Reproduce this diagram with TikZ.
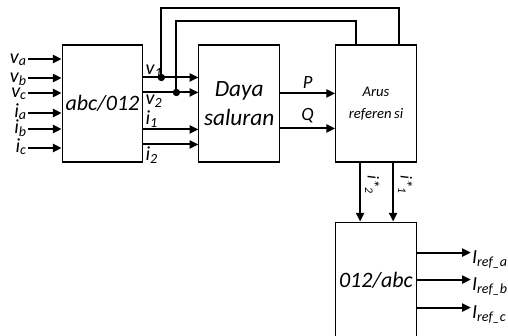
\documentclass[tikz,border=0pt]{standalone}
\usepackage{fontspec}
\setmainfont{Carlito}
\usetikzlibrary{arrows.meta, positioning, calc}

\begin{document}
\begin{tikzpicture}[
    x=0.75pt, y=0.75pt,               % <── 1 unit = 1 pixel of the sketch
    node distance=41.25pt,
    block/.style={rectangle, draw, line width=0.8pt, minimum width=60.5pt, minimum height=87.75pt,
                  inner sep=0pt, align=center, font=\itshape\fontsize{16.5}{19}\selectfont},
    sig/.style={-{Triangle[length=6.5pt, width=6pt]}, line width=1.5pt},
    wire/.style={line width=1.5pt},
    lbl/.style={inner sep=0pt, font=\itshape\fontsize{15}{15}\selectfont},
    dot/.style={circle, fill, inner sep=0pt, minimum size=5.5pt}
    ]
    \useasboundingbox (0,0) rectangle (508,-336);

    % Blocks
    \node[block] (abc) at (102.5,-103.5) {abc/012};
    \node[block, font=\itshape\fontsize{17.5}{22}\selectfont] (daya) [right=of abc] {Daya\\saluran};
    \node[block, font=\itshape\fontsize{11}{16}\selectfont] (arus) [right=of daya] {Arus\\referen\,si};
    \node[block] (inv) [below=44.25pt of arus] {012/abc};

    % Inputs
    \foreach \n/\txt/\y in {va/v\textsubscript{a}/59, vb/v\textsubscript{b}/78, vc/v\textsubscript{c}/93,
                            ia/i\textsubscript{a}/113, ib/i\textsubscript{b}/129, ic/i\textsubscript{c}/148}{
        \coordinate (\n) at (28,-\y);
        \node[lbl, anchor=base east] (l\n) at ($(\n)+(-1,-4)$) {\txt};
        \draw[sig] (\n) -- (\n -| abc.west);
    }

    % abc/012 -> Daya saluran
    \foreach \n/\dy in {v1/33, v2/48, i1/85, i2/100}{
        \coordinate (\n) at ($(abc.north east)+(0,-\dy)$);
        \draw[sig] (\n) -- (\n -| daya.west);
    }
    \node[lbl, anchor=base west] (lv1) at ($(v1)+(2,3)$) {v\textsubscript{1}};
    \node[lbl, anchor=base west] (lv2) at ($(v2)+(2,-12)$) {v\textsubscript{2}};
    \node[lbl, anchor=base west] (li1) at ($(i1)+(2,5)$) {i\textsubscript{1}};
    \node[lbl, anchor=base west] (li2) at ($(i2)+(2,-16)$) {i\textsubscript{2}};

    % Feedback to Arus referensi
    \node[dot] (d1) at ($(v1)+(18,0)$) {};
    \node[dot] (d2) at ($(v2)+(33,0)$) {};
    \draw[wire] (d1.center) -- ++(0,69) -| ($(arus.north east)+(-18,0)$);
    \draw[wire] (d2.center) -- ++(0,71) -| ($(arus.north west)+(21,0)$);

    % Daya saluran -> Arus referensi
    \draw[sig] ($(daya.north east)+(0,-49)$) -- node[lbl, above=3pt, font=\itshape\fontsize{14}{14}\selectfont] (lp) {P}
               ($(arus.north west)+(0,-49)$);
    \draw[sig] ($(daya.north east)+(0,-84)$) -- node[lbl, above=3pt, font=\itshape\fontsize{14}{14}\selectfont] (lq) {Q}
               ($(arus.north west)+(0,-84)$);

    % Arus referensi -> 012/abc
    \draw[sig] ($(arus.south west)+(25,0)$) -- node[lbl, pos=0.38, rotate=-90, anchor=south, yshift=3pt,
               font=\itshape\fontsize{12.5}{12.5}\selectfont] (ls2) {i*\textsubscript{2}} ($(inv.north west)+(25,0)$);
    \draw[sig] ($(arus.south west)+(58,0)$) -- node[lbl, pos=0.38, rotate=-90, anchor=south, yshift=3pt,
               font=\itshape\fontsize{12.5}{12.5}\selectfont] (ls1) {i*\textsubscript{1}} ($(inv.north west)+(58,0)$);

    % Outputs
    \foreach \n/\s/\dy in {ra/a/31, rb/b/58, rc/c/86}{
        \draw[sig] ($(inv.north east)+(0,-\dy)$) -- ++(54,0) coordinate (\n);
        \node[lbl, anchor=base west] (l\n) at ($(\n)+(1,-11)$) {I\textsubscript{ref\_\s}};
    }
\end{tikzpicture}
\end{document}
